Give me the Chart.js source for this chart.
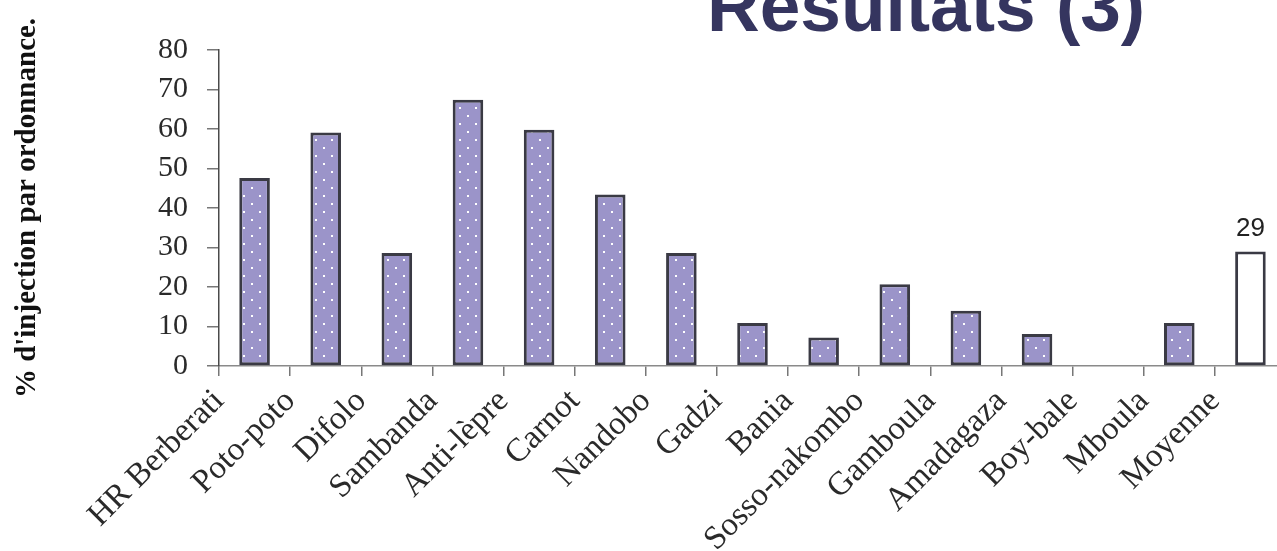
<!DOCTYPE html>
<html>
<head>
<meta charset="utf-8">
<script src="https://cdn.jsdelivr.net/npm/chart.js@4"></script>
<style>
  body { margin: 0; overflow: hidden; background: #fff; }
  #wrap { position: relative; width: 1286px; height: 551px; }
  #titre {
    position: absolute; left: 707px; top: -30px; margin: 0;
    font: bold 73px "Liberation Sans", Arial, sans-serif; line-height: 72px;
    color: #35355f; white-space: nowrap;
  }
</style>
</head>
<body>
<div id="wrap">
  <canvas id="chartInjection"></canvas>
  <h1 id="titre">Resultats (3)</h1>
</div>
<script>
// données
const centres = ['HR Berberati', 'Poto-poto', 'Difolo', 'Sambanda', 'Anti-lèpre', 'Carnot', 'Nandobo',
  'Gadzi', 'Bania', 'Sosso-nakombo', 'Gamboula', 'Amadagaza', 'Boy-bale', 'Mboula', 'Moyenne'];
const pourcentages = [47.6, 59.1, 28.6, 67.4, 59.8, 43.4, 28.6, 10.9, 7.2, 20.7, 14, 8.1, 0, 10.9, 29];
const etiquettes = ['', '', '', '', '', '', '', '', '', '', '', '', '', '', '29'];
const yMin = 0, yMax = 80, yPas = 10;

// motif violet à points blancs
function motifPoints() {
  const c = document.createElement('canvas');
  c.width = 16; c.height = 16;
  const g = c.getContext('2d');
  g.fillStyle = '#9b94c9';
  g.fillRect(0, 0, 16, 16);
  g.fillStyle = '#ffffff';
  g.fillRect(3, 3, 2, 2);
  g.fillRect(11, 11, 2, 2);
  return g.createPattern(c, 'repeat');
}

document.addEventListener('DOMContentLoaded', () => {
  const ctx = document.getElementById('chartInjection').getContext('2d');
  const motif = motifPoints();
  const fonds = centres.map(n => n === 'Moyenne' ? '#ffffff' : motif);

  const etiquettesPlugin = {
    id: 'etiquettes',
    afterDatasetsDraw(chart) {
      const meta = chart.getDatasetMeta(0);
      const c = chart.ctx;
      c.save();
      c.font = '26px "Liberation Sans", Arial, sans-serif';
      c.fillStyle = '#222';
      c.textAlign = 'center';
      c.textBaseline = 'alphabetic';
      meta.data.forEach((bar, i) => {
        if (etiquettes[i]) c.fillText(etiquettes[i], bar.x, bar.y - 15);
      });
      c.restore();
    }
  };

  new Chart(ctx, {
    type: 'bar',
    data: {
      labels: centres,
      datasets: [{
        data: pourcentages,
        backgroundColor: fonds,
        borderColor: '#3a3a44',
        borderWidth: 3,
        borderSkipped: false,
        categoryPercentage: 1,
        barPercentage: 0.43
      }]
    },
    plugins: [etiquettesPlugin],
    options: {
      responsive: true,
      maintainAspectRatio: false,
      animation: false,
      layout: { padding: { top: 50, left: 10, right: 0, bottom: 0 } },
      plugins: {
        legend: { display: false },
        tooltip: { enabled: false }
      },
      scales: {
        x: {
          afterFit: s => { s.height = 185; },
          border: { color: '#8a8a8a', width: 1.5 },
          grid: { offset: true, drawOnChartArea: false, tickLength: 10, color: '#777', lineWidth: 1.5 },
          ticks: {
            autoSkip: false, minRotation: 45, maxRotation: 45,
            labelOffset: -35.5, padding: 6, color: '#2a2a2a',
            font: { family: '"Liberation Serif", "Times New Roman", serif', size: 33 }
          }
        },
        y: {
          min: yMin, max: yMax,
          afterFit: s => { s.width = 209; },
          border: { color: '#4a4a4a', width: 1.5 },
          grid: { drawOnChartArea: false, tickLength: 12, color: '#777', lineWidth: 1.5 },
          ticks: {
            stepSize: yPas, padding: 19, color: '#2a2a2a',
            font: { family: '"Liberation Serif", "Times New Roman", serif', size: 30 }
          },
          title: {
            display: true, text: "% d'injection par ordonnance.", color: '#111',
            padding: 0,
            font: { family: '"Liberation Serif", "Times New Roman", serif', size: 29, weight: 'bold' }
          }
        }
      }
    }
  });
});
</script>
</body>
</html>
